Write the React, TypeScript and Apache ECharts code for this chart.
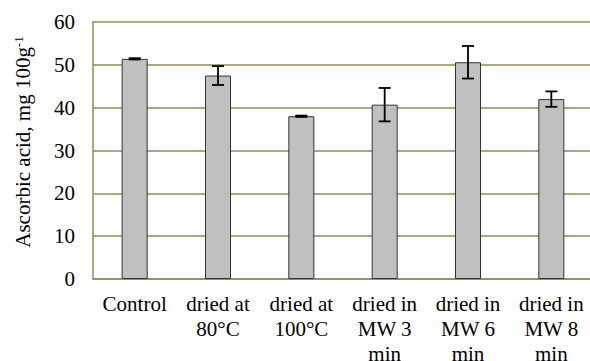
import React, { useEffect, useRef } from "react";
import * as echarts from "echarts";

const categories = ["Control", "dried at\n80°C", "dried at\n100°C", "dried in\nMW 3\nmin", "dried in\nMW 6\nmin", "dried in\nMW 8\nmin"];
const values = [51.4, 47.5, 38.0, 40.7, 50.6, 42.0];
const errors = [0.15, 2.2, 0.15, 3.9, 3.8, 1.8];
const yTicks = { min: 0, max: 60, interval: 10 };

const OLIVE = "#948A54";
const FONT = "'Liberation Serif', 'Times New Roman', serif";

export default function App() {
  const ref = useRef<HTMLDivElement>(null);
  useEffect(() => {
    if (!ref.current) return;
    const chart = echarts.init(ref.current, null, { renderer: "svg" });
    const errData = values.map((v, i) => [i, v - errors[i], v + errors[i]]);
    chart.setOption({
      animation: false,
      backgroundColor: "#ffffff",
      grid: { left: 93, top: 22, width: 500, height: 257, containLabel: false, outerBoundsMode: "none" },
      xAxis: {
        type: "category",
        data: categories,
        axisLine: { show: true, lineStyle: { color: OLIVE, width: 1.5 } },
        axisTick: { show: false },
        axisLabel: {
          color: "#000",
          fontFamily: FONT,
          fontSize: 21,
          lineHeight: 25,
          margin: 12,
          interval: 0,
          align: "center",
        },
      },
      yAxis: {
        type: "value",
        min: yTicks.min,
        max: yTicks.max,
        interval: yTicks.interval,
        axisLine: { show: true, lineStyle: { color: OLIVE, width: 1.5 } },
        axisTick: { show: false },
        splitLine: { show: true, lineStyle: { color: OLIVE, width: 1.5 } },
        axisLabel: { color: "#000", fontFamily: FONT, fontSize: 21, margin: 18 },
      },
      graphic: [
        {
          type: "text",
          x: 23,
          y: 142,
          rotation: Math.PI / 2,
          style: {
            text: "Ascorbic acid, mg 100g{sup|-1}",
            fontFamily: FONT,
            fontSize: 21,
            fill: "#000",
            align: "center",
            verticalAlign: "middle",
            rich: {
              sup: { fontFamily: FONT, fontSize: 13, verticalAlign: "top", padding: [0, 0, 10, 0], fill: "#000" },
            },
          },
        },
      ],
      series: [
        {
          type: "bar",
          data: values,
          barWidth: 26,
          itemStyle: { color: "#C0C0C0", borderColor: "#333333", borderWidth: 1 },
        },
        {
          type: "custom",
          data: errData,
          z: 10,
          renderItem: (params: any, api: any) => {
            const idx = api.value(0);
            const lo = api.coord([idx, api.value(1)]);
            const hi = api.coord([idx, api.value(2)]);
            const half = 6;
            const st = { stroke: "#000", lineWidth: 1.8 };
            return {
              type: "group",
              children: [
                { type: "line", shape: { x1: lo[0], y1: lo[1], x2: hi[0], y2: hi[1] }, style: st },
                { type: "line", shape: { x1: hi[0] - half, y1: hi[1], x2: hi[0] + half, y2: hi[1] }, style: st },
                { type: "line", shape: { x1: lo[0] - half, y1: lo[1], x2: lo[0] + half, y2: lo[1] }, style: st },
              ],
            };
          },
        },
      ],
    });
    return () => chart.dispose();
  }, []);
  return <div ref={ref} style={{ position: "fixed", left: 0, top: 0, width: 590, height: 361, background: "#fff" }} />;
}
